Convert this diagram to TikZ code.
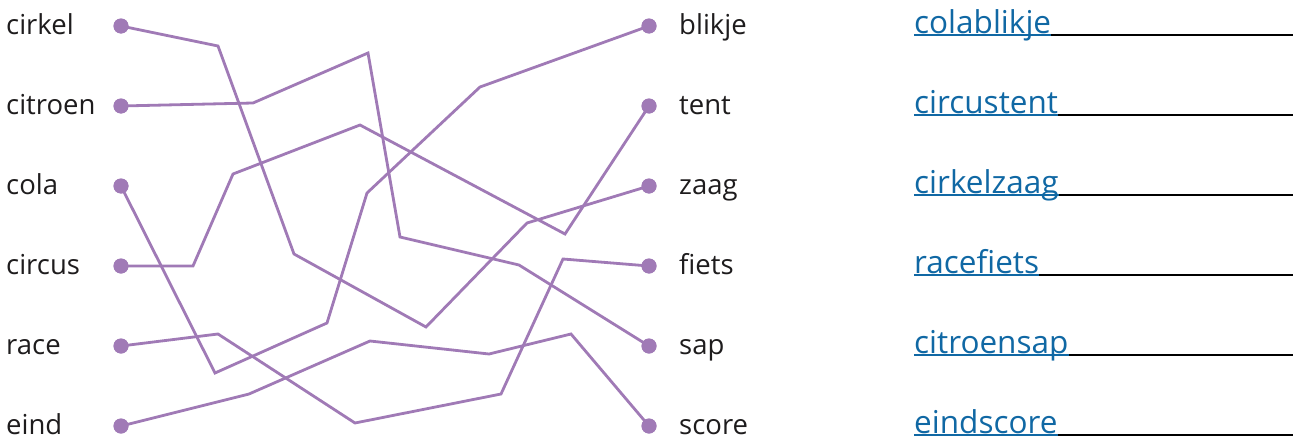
\documentclass[tikz,border=0pt]{standalone}
\usepackage{fontspec}
\setmainfont{Open Sans}
\definecolor{lilac}{RGB}{160,122,182}
\definecolor{ansblue}{RGB}{16,104,164}
\definecolor{inkdark}{RGB}{30,28,29}
\begin{document}
\begin{tikzpicture}[x=1pt,y=-1pt,
  dot/.style={circle,fill=lilac,inner sep=0pt,minimum size=15pt},
  conn/.style={draw=lilac,line width=2.8pt,line join=miter},
  lbl/.style={anchor=base west,inner sep=0pt,text=inkdark,font=\fontsize{27.5}{32}\selectfont},
  ans/.style={anchor=base west,inner sep=0pt,text=ansblue,font=\fontsize{31.5}{36}\selectfont},
  rule/.style={draw=black,line width=1.5pt},
  urule/.style={draw=ansblue,line width=1.5pt}]
\useasboundingbox (0,0) rectangle (1301,439);
% left labels and dots
\foreach \n/\t [count=\i] in {L1/cirkel,L2/citroen,L3/cola,L4/circus,L5/race,L6/eind}{
  \node[lbl] (t\n) at (6,{26+80*(\i-1)+8.5}) {\t};
  \node[dot] (\n) at (121,{26+80*(\i-1)}) {};
}
\foreach \n/\t [count=\i] in {R1/blikje,R2/tent,R3/zaag,R4/fiets,R5/sap,R6/score}{
  \node[dot] (\n) at (649,{26+80*(\i-1)}) {};
  \node[lbl] (t\n) at (679,{26+80*(\i-1)+8.5}) {\t};
}
% answers
\foreach \n/\t [count=\i] in {A1/colablikje,A2/circustent,A3/cirkelzaag,A4/racefiets,A5/citroensap,A6/eindscore}{
  \coordinate (s\n) at (914,{35+80*(\i-1)});
  \coordinate (e\n) at (1293,{35+80*(\i-1)});
  \draw[rule] (s\n) -- (e\n);
  \node[ans] (\n) at (914,{33.5+80*(\i-1)}) {\t};
  \draw[urule] (s\n) -- (\n.base east |- s\n);
}
% connectors
\draw[conn] (L1.center) -- (218,46) -- (294,254) -- (426,327) -- (527,223) -- (R3.center);
\draw[conn] (L2.center) -- (253,103) -- (368,53) -- (400,237) -- (519,265) -- (R5.center);
\draw[conn] (L3.center) -- (215,373) -- (327,323) -- (367,193) -- (480,87) -- (R1.center);
\draw[conn] (L4.center) -- (193,266) -- (233,174) -- (360,125) -- (565,234) -- (R2.center);
\draw[conn] (L5.center) -- (218,334) -- (355,423) -- (501,394) -- (563,259) -- (R4.center);
\draw[conn] (L6.center) -- (249,394) -- (370,341) -- (489,354) -- (571,334) -- (R6.center);
% redraw dots on top
\foreach \n in {L1,L2,L3,L4,L5,L6,R1,R2,R3,R4,R5,R6}{
  \fill[lilac] (\n.center) circle (7.5pt);
}
\end{tikzpicture}
\end{document}
